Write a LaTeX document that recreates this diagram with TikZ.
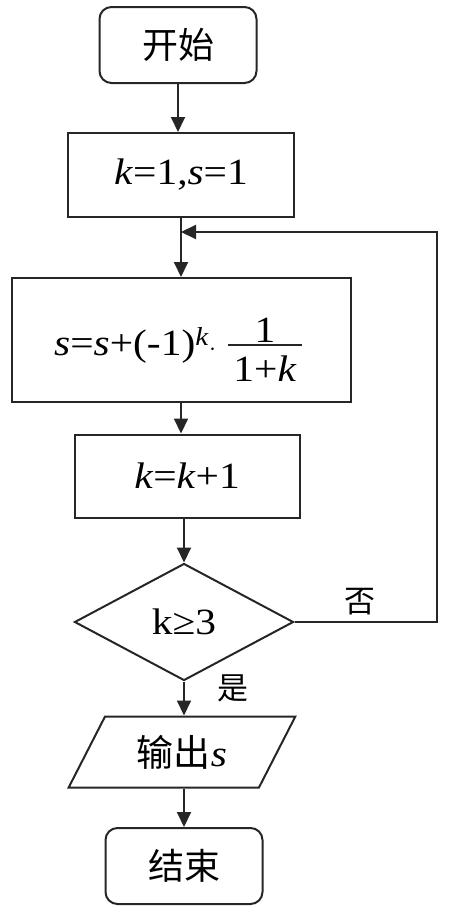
\documentclass[tikz,border=0pt]{standalone}
\usepackage{fontspec}
\setmainfont{Liberation Serif}[FakeStretch=1.12]
\newfontfamily\cjk{Noto Sans CJK SC}
\usetikzlibrary{shapes.geometric,arrows.meta}
\begin{document}
\begin{tikzpicture}[x=1pt,y=1pt,
  base/.style={draw=black!85, line width=2pt, inner sep=0pt, align=center},
  term/.style={base, rectangle, rounded corners=12pt, minimum width=157pt, minimum height=76pt, font=\cjk\fontsize{36}{42}\selectfont},
  proc/.style={base, rectangle, font=\fontsize{37}{42}\selectfont},
  txt/.style={inner sep=0pt, font=\fontsize{37}{42}\selectfont},
  cond/.style={base, diamond, aspect=1.87, minimum width=219pt, minimum height=117pt, font=\fontsize{37}{42}\selectfont},
  io/.style={base, trapezium, trapezium left angle=58, trapezium right angle=122, trapezium stretches=true, minimum width=227pt, minimum height=71pt, font=\fontsize{37}{42}\selectfont},
  arr/.style={line width=2pt, draw=black!85, -{Triangle[width=14pt,length=15pt]}},
  ln/.style={line width=2pt, draw=black!85},
  lbl/.style={font=\cjk\fontsize{31}{36}\selectfont, inner sep=0pt}
]
\useasboundingbox (0,0) rectangle (449,-908);
\node[term] (start) at (178,-45) {开始};
\node[proc, minimum width=226pt, minimum height=84pt] (b1) at (181,-175) {\textit{k}=1,\textit{s}=1};
\node[proc, minimum width=339pt, minimum height=124pt] (b2) at (181,-340) {};
\node[txt, anchor=base west] (f) at (54,-355) {\textit{s}=\textit{s}+(-1)\textsuperscript{\textit{k}}$\cdot$};
\node[txt, anchor=base] (num) at (265,-342) {1};
\node[txt, anchor=base] (den) at (265,-381) {1+\textit{k}};
\coordinate (barL) at (228,-345);
\coordinate (barR) at (302,-345);
\draw[line width=1.6pt, draw=black!85] (barL) -- (barR);
\node[proc, minimum width=225pt, minimum height=83pt] (b3) at (187,-476) {\textit{k}=\textit{k}+1};
\node[cond] (dia) at (184,-622) {k≥3};
\node[io] (out) at (182,-752) {{\cjk 输出}\textit{s}};
\node[term] (end) at (184,-866) {结束};
\coordinate (join) at (181,-232);
\coordinate (fbA) at (437,-622);
\coordinate (fbB) at (437,-232);
\draw[arr] (start.south) -- (start.south |- b1.north);
\draw[ln] (b1.south) -- (join);
\draw[arr] (join) -- (join |- b2.north);
\draw[arr] (b2.south) -- (b2.south |- b3.north);
\draw[arr] (b3.south -| dia.north) -- (dia.north);
\draw[arr] (dia.south) -- (dia.south |- out.north);
\draw[arr] (out.south -| end.north) -- (end.north);
\draw[arr] (dia.east) -- (fbA) -- (fbB) -- (join);
\node[lbl] (no) at (360,-602) {否};
\node[lbl] (yes) at (233,-688) {是};
\end{tikzpicture}
\end{document}
